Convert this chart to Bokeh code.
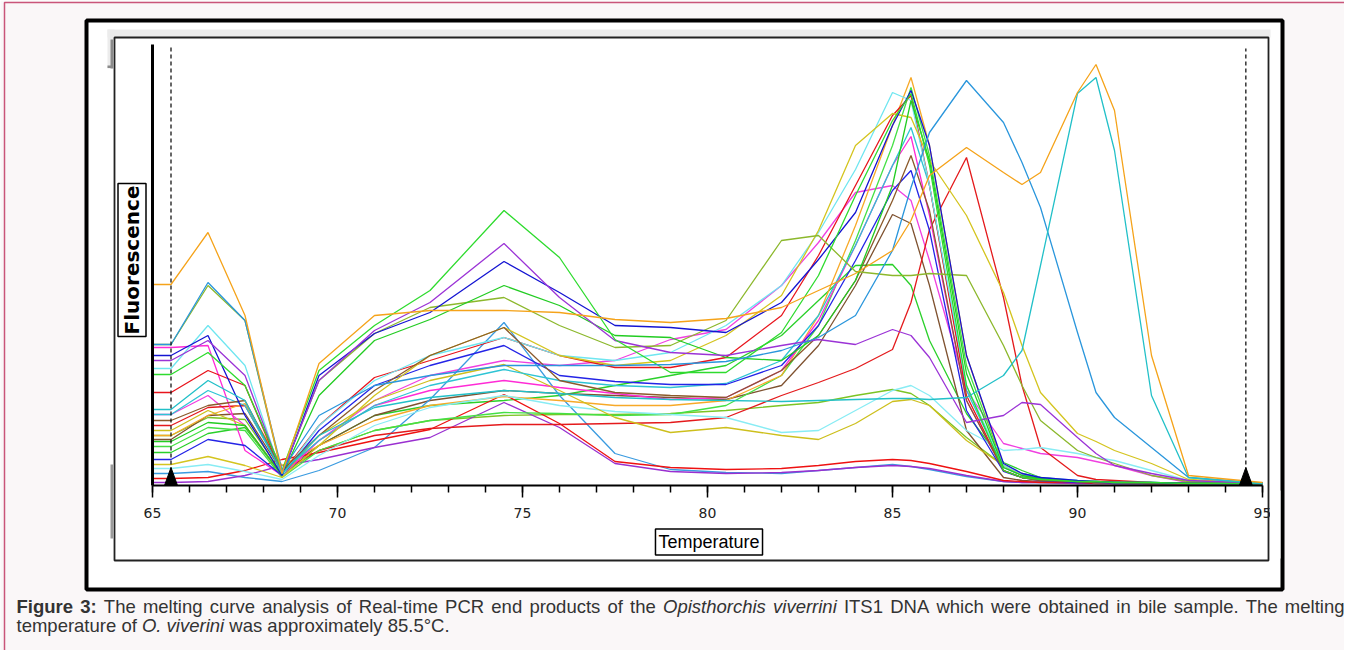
import math
from bokeh.plotting import figure
from bokeh.models import Range1d, BoxAnnotation, Label, SingleIntervalTicker, FixedTicker
from bokeh.embed import file_html
from bokeh.resources import INLINE

# ---------------- data (fluorescence, arbitrary units) ----------------
temperature = [65, 65.5, 66.5, 67.5, 68.5, 69.5, 71, 72.5, 74.5, 76, 77.5, 79, 80.5, 82, 83,
               84, 85, 85.5, 86, 87, 88, 88.5, 89, 90, 90.5, 91, 92, 93, 95]

orange_a = [201, 201, 253, 170, 12, 122, 170, 175, 175, 173, 166, 163, 167, 178, 195, 212, 235, 265, 310, 338, 313, 301, 313, 393, 421, 375, 130, 10, 3]
teal_a = [76, 76, 105, 85, 12, 50, 78, 88, 95, 92, 88, 86, 85, 84, 85, 86, 87, 87, 86, 88, 110, 135, 220, 392, 408, 335, 90, 8, 2]
steel_a = [141, 141, 203, 165, 15, 70, 100, 110, 120, 120, 120, 121, 124, 135, 148, 170, 235, 298, 353, 405, 363, 323, 278, 153, 93, 68, 38, 8, 2]
green_a = [111, 111, 133, 100, 15, 115, 160, 195, 275, 228, 146, 113, 113, 153, 210, 290, 365, 392, 320, 100, 15, 8, 6, 4, 4, 3, 3, 2, 2]
purple_a = [125, 125, 145, 110, 12, 105, 155, 183, 242, 188, 145, 133, 130, 140, 146, 141, 156, 150, 128, 63, 70, 83, 81, 48, 32, 20, 12, 5, 2]
blue_a = [130, 130, 150, 70, 10, 110, 152, 173, 224, 193, 160, 158, 153, 183, 226, 273, 360, 395, 340, 130, 22, 12, 8, 5, 4, 3, 3, 2, 2]
green_b = [44, 44, 63, 60, 10, 90, 145, 166, 200, 180, 150, 148, 128, 125, 150, 205, 300, 385, 325, 112, 18, 10, 7, 4, 4, 3, 3, 2, 2]
olive_a = [141, 141, 200, 165, 12, 105, 152, 178, 188, 160, 138, 140, 165, 245, 250, 214, 210, 210, 212, 210, 140, 100, 65, 35, 28, 22, 10, 4, 2]
brown_a = [65, 65, 80, 85, 15, 50, 95, 130, 158, 105, 93, 90, 88, 115, 150, 205, 285, 330, 275, 85, 15, 8, 5, 4, 3, 3, 2, 2, 2]
yellow_a = [21, 21, 29, 20, 8, 40, 90, 130, 158, 130, 120, 125, 150, 190, 255, 340, 372, 368, 325, 270, 193, 140, 93, 52, 44, 35, 22, 6, 2]
lcyan_a = [117, 117, 160, 120, 10, 60, 105, 130, 148, 130, 125, 133, 160, 200, 253, 316, 393, 385, 300, 100, 20, 12, 8, 5, 4, 3, 3, 2, 2]
red_a = [93, 93, 115, 100, 12, 60, 108, 125, 148, 130, 118, 118, 128, 170, 230, 300, 370, 390, 300, 90, 15, 8, 6, 4, 3, 3, 2, 2, 2]
blue_b = [26, 26, 46, 40, 10, 55, 100, 120, 140, 110, 104, 101, 101, 120, 160, 225, 295, 315, 255, 75, 14, 8, 5, 3, 3, 2, 2, 2, 2]
cyan_a = [71, 71, 95, 80, 14, 45, 80, 100, 116, 105, 100, 98, 102, 125, 170, 240, 320, 358, 300, 95, 18, 10, 7, 4, 3, 3, 2, 2, 2]
yellow_b = [55, 55, 75, 60, 10, 50, 85, 105, 121, 95, 68, 53, 58, 50, 46, 62, 84, 86, 80, 45, 20, 12, 8, 4, 3, 3, 2, 2, 2]
lcyan_b = [17, 17, 21, 14, 6, 30, 60, 78, 90, 80, 74, 71, 68, 53, 55, 75, 95, 100, 90, 55, 35, 36, 38, 32, 28, 25, 15, 5, 2]
magenta_a = [138, 138, 140, 35, 10, 45, 80, 95, 105, 98, 92, 86, 88, 115, 165, 240, 320, 349, 270, 85, 15, 8, 6, 4, 3, 3, 2, 2, 2]
orange_b = [50, 50, 70, 82, 20, 40, 65, 80, 89, 85, 80, 80, 85, 110, 170, 260, 360, 408, 340, 130, 20, 10, 7, 4, 3, 3, 2, 2, 2]
green_c = [39, 39, 58, 55, 8, 35, 55, 65, 73, 72, 70, 71, 80, 110, 160, 245, 340, 398, 330, 120, 20, 10, 7, 4, 3, 3, 2, 2, 2]
red_b = [60, 60, 78, 80, 15, 35, 50, 57, 61, 61, 62, 63, 68, 90, 103, 117, 136, 183, 256, 328, 188, 100, 38, 10, 6, 5, 3, 2, 2]
red_low = [7, 7, 8, 15, 26, 33, 45, 56, 91, 62, 24, 18, 16, 17, 20, 24, 26, 25, 22, 14, 5, 4, 3, 3, 2, 2, 2, 2, 2]
purple_low = [3, 3, 4, 10, 20, 26, 38, 48, 83, 58, 22, 14, 12, 13, 15, 18, 20, 19, 17, 10, 4, 3, 3, 2, 2, 2, 2, 2, 2]
steel_low = [12, 12, 14, 8, 4, 15, 38, 86, 163, 90, 32, 16, 13, 12, 15, 18, 21, 19, 16, 9, 4, 3, 3, 2, 2, 2, 2, 2, 2]
magenta_b = [71, 71, 90, 60, 10, 45, 85, 110, 125, 120, 125, 146, 156, 200, 243, 293, 300, 285, 225, 95, 42, 37, 32, 28, 24, 20, 10, 3, 2]
brown_b = [46, 46, 70, 72, 14, 40, 70, 85, 95, 92, 90, 88, 86, 100, 140, 200, 271, 262, 200, 55, 8, 5, 4, 3, 3, 2, 2, 2, 2]
green_d = [33, 33, 52, 58, 10, 40, 70, 80, 85, 90, 100, 110, 120, 150, 185, 220, 221, 200, 145, 72, 23, 15, 8, 4, 3, 3, 2, 2, 2]
green_e = [50, 50, 68, 66, 12, 35, 55, 65, 70, 71, 71, 72, 75, 80, 83, 90, 96, 92, 80, 48, 20, 12, 7, 4, 3, 3, 2, 2, 2]

series = [
    (green_e, "#7cc424"), (green_d, "#2ad02a"), (brown_b, "#7f5230"), (magenta_b, "#f040e0"),
    (steel_low, "#3a9be0"), (purple_low, "#9a2fd0"), (red_low, "#ee1111"), (red_b, "#e41a1c"),
    (green_c, "#45e045"), (orange_b, "#f7a928"), (magenta_a, "#ff2bd6"), (lcyan_b, "#88ecf4"),
    (yellow_b, "#cdbf1c"), (cyan_a, "#2ec4d4"), (blue_b, "#2424e6"), (red_a, "#e8141c"),
    (lcyan_a, "#6fe6f0"), (yellow_a, "#d4c41e"), (brown_a, "#8b5a2b"), (olive_a, "#8cb82c"),
    (green_b, "#22cc22"), (blue_a, "#1414d2"), (purple_a, "#9b33d6"), (green_a, "#2edb2e"),
    (steel_a, "#2a96dc"), (teal_a, "#22c0c8"), (orange_a, "#f5a31a"),
]
for vals, _c in series:
    if len(vals) != len(temperature):
        raise ValueError("length mismatch %d %s" % (len(vals), _c))

cursor_temps = [65.5, 94.55]

caption_line1 = [("Figure", "bold"), ("3:", "bold"), ("The", "normal"), ("melting", "normal"),
                 ("curve", "normal"), ("analysis", "normal"), ("of", "normal"), ("Real-time", "normal"),
                 ("PCR", "normal"), ("end", "normal"), ("products", "normal"), ("of", "normal"),
                 ("the", "normal"), ("Opisthorchis", "italic"), ("viverrini", "italic"), ("ITS1", "normal"),
                 ("DNA", "normal"), ("which", "normal"), ("were", "normal"), ("obtained", "normal"),
                 ("in", "normal"), ("bile", "normal"), ("sample.", "normal"), ("The", "normal"),
                 ("melting", "normal")]
caption_line2 = [("temperature of", "normal"), ("O. viverini", "italic"), ("was approximately 85.5°C.", "normal")]

# ---------------- layout (page pixel geometry) ----------------
W, H = 1344, 650
OX, OY = 8, 8
FL, FR, FT, FB = 160, 1270, 52, 493      # chart area in page pixels
XMIN, XMAX, YMAX = 65, 95, 441


def X(px):
    return XMIN + (px - FL) * (XMAX - XMIN) / (FR - FL)


def Y(py):
    return (FB - py) * YMAX / (FB - FT)


p = figure(width=W, height=H, x_range=Range1d(X(OX), X(OX + W)), y_range=Range1d(Y(OY + H), Y(OY)),
           output_backend="svg", toolbar_location=None, min_border=0,
           min_border_left=0, min_border_right=0, min_border_top=0, min_border_bottom=0)
p.border_fill_color = "#faf7f8"
p.background_fill_color = "#faf7f8"
p.outline_line_color = None
p.xgrid.visible = False
p.ygrid.visible = False


def box(x0, y0, x1, y1, level="underlay", **kw):
    kw.setdefault("line_alpha", 1)
    b = BoxAnnotation(left=X(x0), right=X(x1), top=Y(y0), bottom=Y(y1), level=level, **kw)
    p.add_layout(b)
    return b


# page frame, figure frame and screenshot panel
box(12, 10, 1500, 800, fill_color="#faf7f8", fill_alpha=1, line_color="#c9557a", line_width=1.5)
box(94, 28, 1290, 597, fill_color="white", fill_alpha=1, line_color="black", line_width=4)
box(115, 37, 1278, 45, fill_color="#ececec", fill_alpha=1, line_color=None)
box(115, 37, 122, 76, fill_color="#ececec", fill_alpha=1, line_color=None)
box(118, 47, 120.5, 76, fill_color="#8a8a8a", fill_alpha=1, line_color=None)
box(115, 73, 120.5, 75.5, fill_color="#8a8a8a", fill_alpha=1, line_color=None)
box(118, 472, 120.5, 546, fill_color="#9a9a9a", fill_alpha=1, line_color=None)
box(122, 45, 1276, 568, fill_color="white", fill_alpha=1, line_color=None)

# curves
for vals, col in series:
    p.line(temperature, vals, line_color=col, line_width=1.3)

# cursors (dashed markers with triangles at the base)
cursor_top_px = [52, 56]
p.segment(x0=cursor_temps, y0=[0] * len(cursor_temps), x1=cursor_temps,
          y1=[Y(v) for v in cursor_top_px], line_color="black", line_dash="4 3", line_width=1.2)
tri_w = 6.5 * (XMAX - XMIN) / (FR - FL)
p.patches([[t - tri_w, t, t + tri_w] for t in cursor_temps],
          [[0, 18, 0] for _ in cursor_temps], fill_color="black", line_color="black")

# axes drawn at fixed positions inside the canvas
p.xaxis.fixed_location = 0
p.xaxis.bounds = (XMIN, XMAX)
p.xaxis.ticker = SingleIntervalTicker(interval=5, num_minor_ticks=5)
p.xaxis.axis_line_color = "black"
p.xaxis.axis_line_width = 2
p.xaxis.major_tick_line_color = "black"
p.xaxis.major_tick_line_width = 1.5
p.xaxis.major_tick_out = 12
p.xaxis.major_tick_in = 0
p.xaxis.minor_tick_line_color = "black"
p.xaxis.minor_tick_line_width = 1.5
p.xaxis.minor_tick_out = 7
p.xaxis.minor_tick_in = 0
p.xaxis.major_label_standoff = 10
p.xaxis.major_label_text_font = "DejaVu Sans"
p.xaxis.major_label_text_font_size = "14px"
p.xaxis.major_label_text_color = "#222222"

p.yaxis.fixed_location = XMIN
p.yaxis.bounds = (0, YMAX)
p.yaxis.ticker = FixedTicker(ticks=[])
p.yaxis.axis_line_color = "black"
p.yaxis.axis_line_width = 3
p.yaxis.major_tick_line_color = None
p.yaxis.minor_tick_line_color = None

# clip the last tick label at the panel border, then draw the panel border
box(1277.5, 498, 1288, 566, level="overlay", fill_color="white", fill_alpha=1, line_color=None)
box(122, 45, 1276, 568, level="overlay", fill_alpha=0, line_color="#222222", line_width=1.8)

p.add_layout(Label(x=X(139.5), y=Y(267.5), text="Fluorescence", angle=math.pi / 2,
                   text_align="center", text_baseline="middle", text_font="DejaVu Sans",
                   text_font_style="bold", text_font_size="20px", text_color="black",
                   border_line_color="black", border_line_width=1.5,
                   background_fill_color="white", padding=2, level="overlay"))
p.add_layout(Label(x=X(716.5), y=Y(549.5), text="Temperature", text_align="center",
                   text_baseline="middle", text_font="Liberation Sans", text_font_size="18px",
                   text_color="black", border_line_color="black", border_line_width=1.5,
                   background_fill_color="white", padding=3, level="overlay"))

# ---------------- caption (justified first line) ----------------
AW = {' ': 278, 'F': 611, 'T': 611, 'R': 722, 'P': 667, 'C': 722, 'O': 778, 'I': 278, 'S': 667,
      'D': 722, 'N': 722, 'A': 667, 'a': 556, 'b': 556, 'c': 500, 'd': 556, 'e': 556, 'f': 278,
      'g': 556, 'h': 556, 'i': 222, 'l': 222, 'm': 833, 'n': 556, 'o': 556, 'p': 556, 'r': 333,
      's': 500, 't': 278, 'u': 556, 'v': 500, 'w': 722, 'x': 500, 'y': 500, '-': 333, '.': 278,
      ':': 278, '1': 556, '3': 556, '5': 556, '8': 556, '°': 400}
AWB = {'F': 611, 'i': 278, 'g': 611, 'u': 611, 'r': 389, 'e': 556, '3': 556, ':': 333, ' ': 278}
CAP_SIZE = 18.5
CAP_FONT = "Liberation Sans"
CAP_COLOR = "#333333"


def tw(s, style):
    table = AWB if style == "bold" else AW
    return sum(table.get(ch, 556) for ch in s) * CAP_SIZE / 1000.0


def cap_label(x, y, text, style):
    p.add_layout(Label(x=X(x), y=Y(y), text=text, text_align="left", text_baseline="alphabetic",
                       text_font=CAP_FONT, text_font_size="%.1fpx" % CAP_SIZE,
                       text_font_style=style, text_color=CAP_COLOR, level="overlay"))


L1_X0, L1_X1, L1_BASE, L2_BASE = 24, 1352, 614, 633
widths = [tw(w, s) for w, s in caption_line1]
gap = (L1_X1 - L1_X0 - sum(widths)) / (len(caption_line1) - 1)
xpos = L1_X0
for (w, s), wd in zip(caption_line1, widths):
    cap_label(xpos, L1_BASE, w, s)
    xpos += wd + gap

xpos = L1_X0
for w, s in caption_line2:
    cap_label(xpos, L2_BASE, w, s)
    xpos += tw(w, s) + tw(" ", "normal")

open("out.html", "w").write(file_html(p, INLINE))
